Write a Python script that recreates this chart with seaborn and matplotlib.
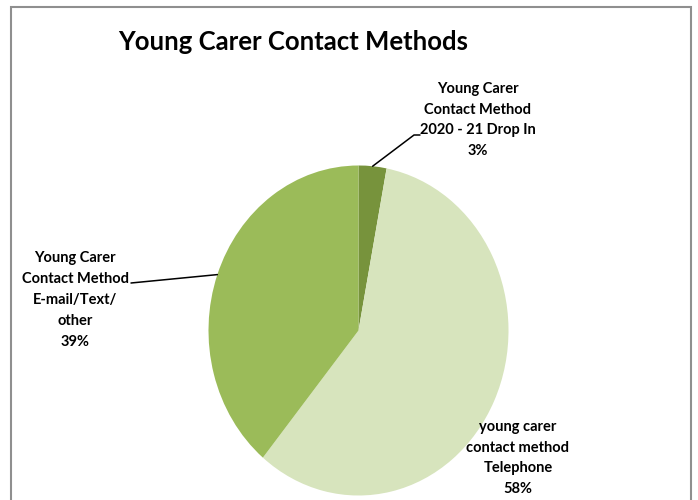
import matplotlib
matplotlib.use("Agg")
import matplotlib.pyplot as plt
import matplotlib.patches as mpatches
import numpy as np
import seaborn as sns

# Contact method shares (percent), in clockwise order from 12 o'clock
categories = [
    "Young Carer\nContact Method\n2020 - 21 Drop In",
    "young carer\ncontact method\nTelephone",
    "Young Carer\nContact Method\nE-mail/Text/\nother",
]
values = [3, 58, 39]
colors = ["#77933C", "#D7E4BD", "#9BBB59"]
title = "Young Carer Contact Methods"

sns.set_theme(style="white")
plt.rcParams["font.family"] = ["Lato", "DejaVu Sans"]

W, H = 698, 500
fig = plt.figure(figsize=(W / 100, H / 100), dpi=100)

# Chart-area border (bottom edge runs off the canvas)
fig.add_artist(mpatches.Rectangle(
    (10.5 / W, -0.05), (691 - 10.5) / W, (H - 6.5) / H + 0.05,
    transform=fig.transFigure, fill=False, edgecolor="#8f8f8f",
    linewidth=1.5, zorder=0))

# Pie axes: slightly taller than wide, giving the stretched pie
cx, cy, rx, ry = 358.5, 330.5, 150, 165
ax = fig.add_axes([(cx - rx) / W, (H - cy - ry) / H, 2 * rx / W, 2 * ry / H])
wedges, _ = ax.pie(values, colors=colors, startangle=90, counterclock=False,
                   wedgeprops=dict(linewidth=0))
ax.set_aspect("auto")
ax.set_xlim(-1, 1)
ax.set_ylim(-1, 1)
ax.axis("off")


def px(x, y):
    """Convert canvas pixels to pie data coordinates."""
    return (x - cx) / rx, (cy - y) / ry


def edge_point(w):
    mid = np.deg2rad((w.theta1 + w.theta2) / 2)
    return np.cos(mid), np.sin(mid)


lab_kw = dict(ha="center", va="center", fontsize=10.5, fontweight="bold",
              color="#000000", linespacing=1.62)

# Drop In label with elbow leader
x0, y0 = edge_point(wedges[0])
ex, ey = px(414, 135)
fx, fy = px(420, 135)
ax.plot([x0, ex, fx], [y0, ey, fy], color="black", lw=1.1, clip_on=False)
tx, ty = px(478, 120)
ax.text(tx, ty, f"{categories[0]}\n{values[0]}%", **lab_kw)

# Telephone label, no leader
tx, ty = px(518, 458)
ax.text(tx, ty, f"{categories[1]}\n{values[1]}%", **lab_kw)

# E-mail label with straight leader
x2, y2 = edge_point(wedges[2])
sx, sy = px(131, 283)
ax.plot([x2, sx], [y2, sy], color="black", lw=1.1, clip_on=False)
tx, ty = px(75, 300)
ax.text(tx, ty, f"{categories[2]}\n{values[2]}%", **lab_kw)

fig.text(293 / W, 1 - 42 / H, title, ha="center", va="center",
         fontsize=18.5, fontweight="bold", color="#000000")

fig.savefig("out.png", dpi=100, facecolor="white")
